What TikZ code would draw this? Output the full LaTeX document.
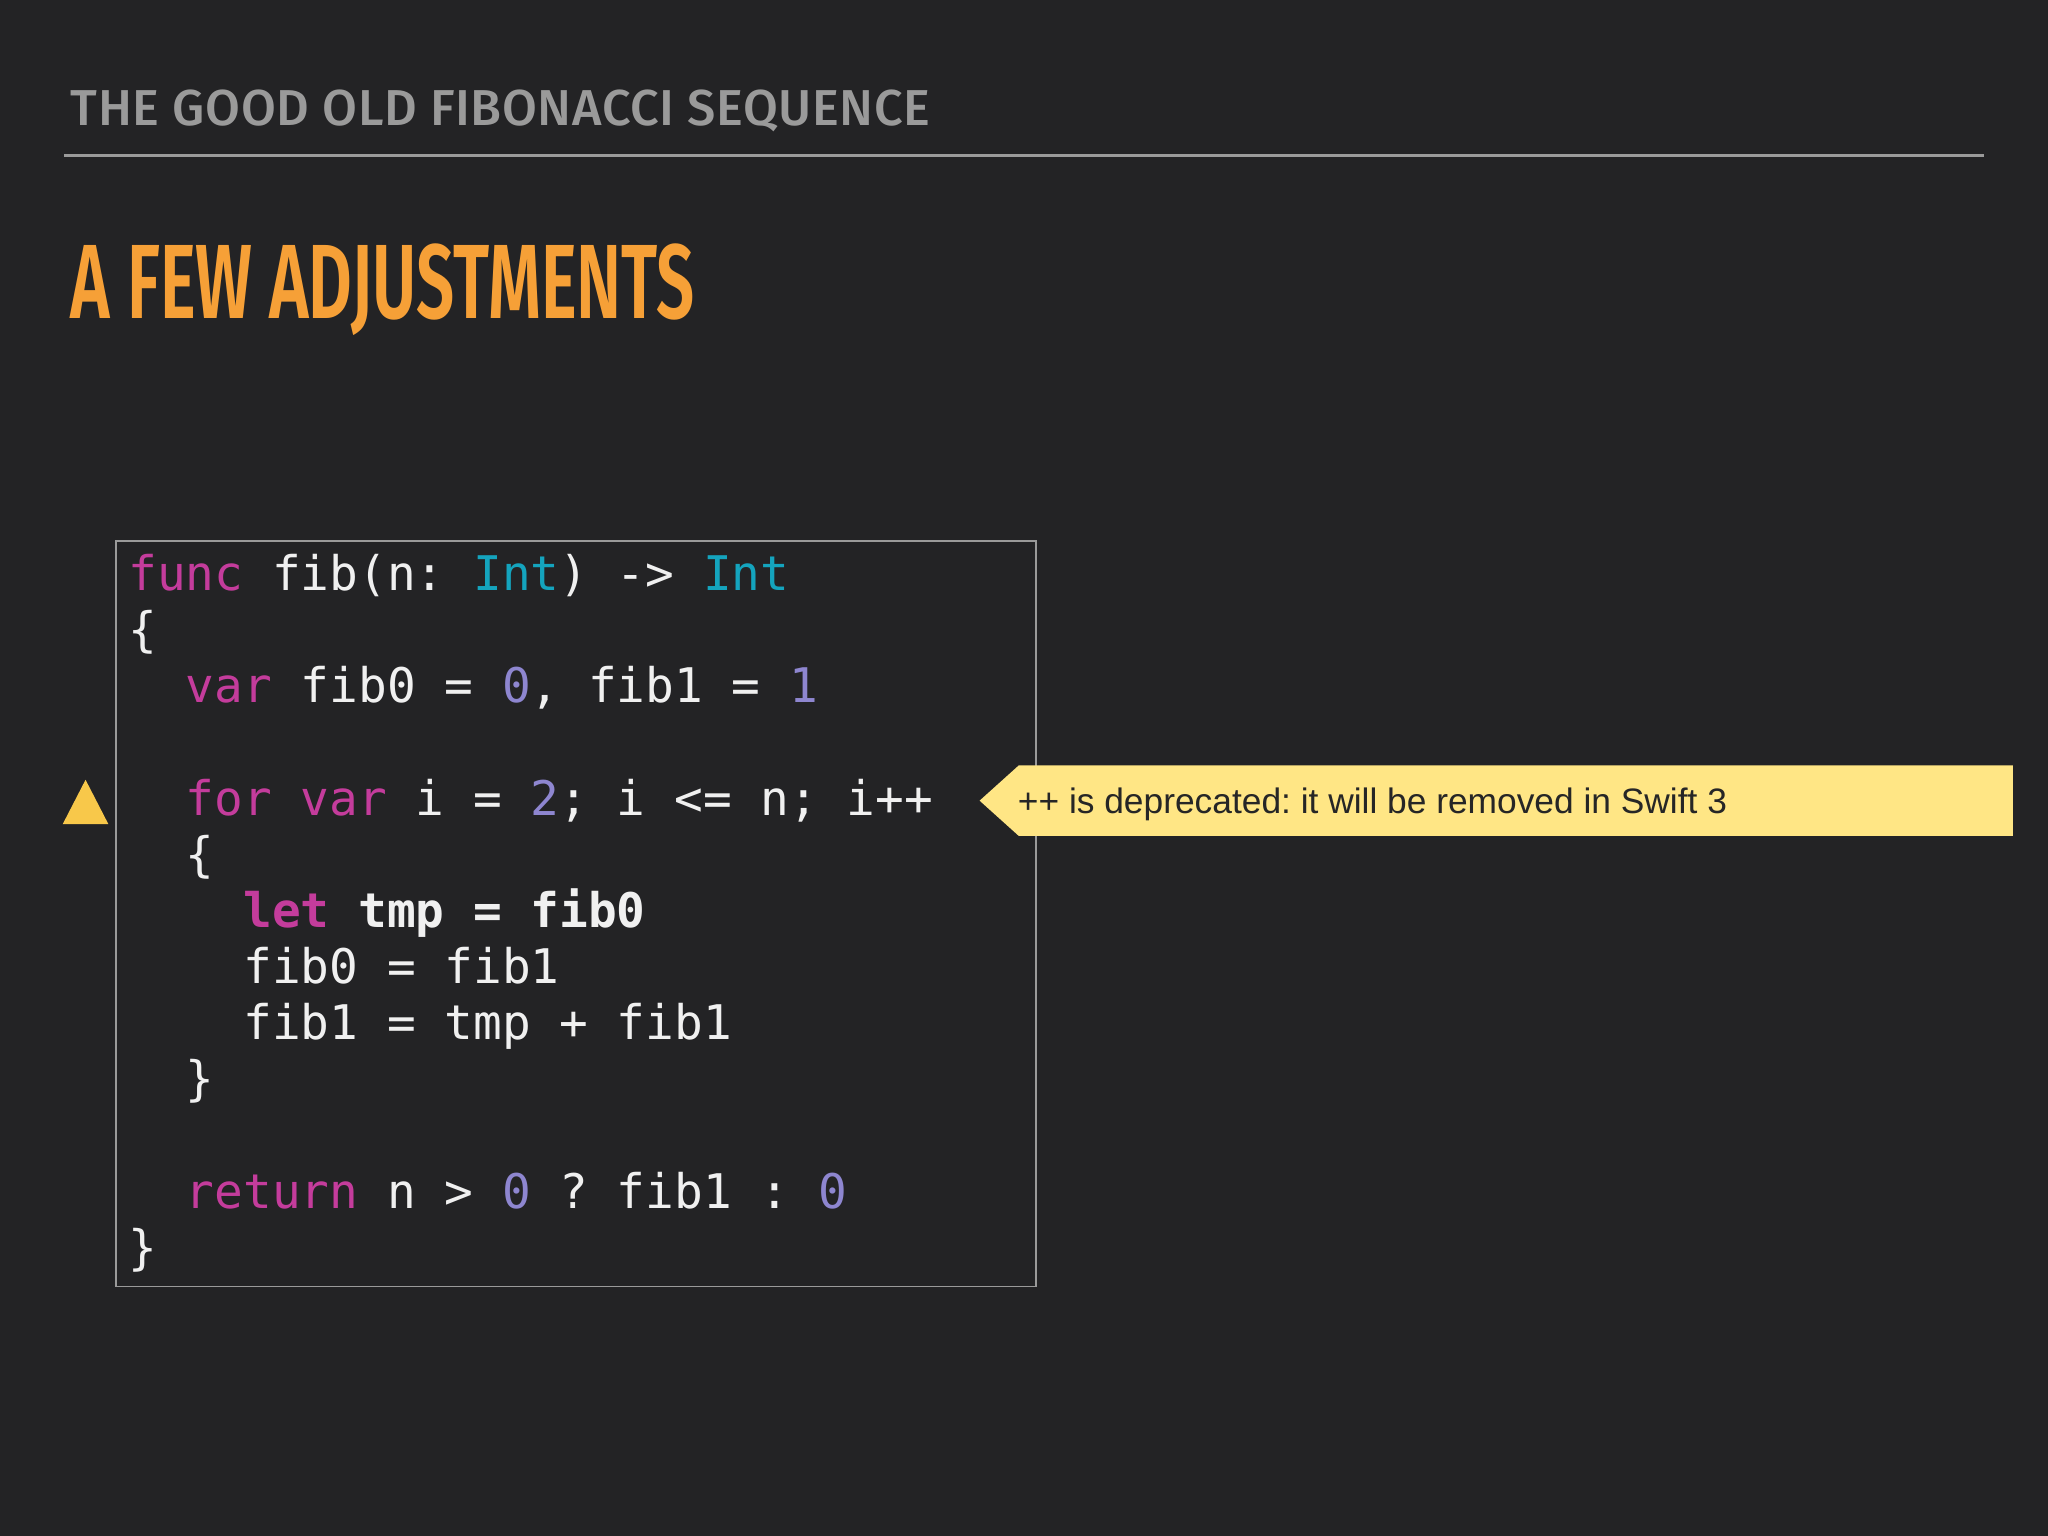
\documentclass[tikz,border=0pt]{standalone}
\usepackage{fontspec}
\setmainfont{Liberation Sans}
\newfontfamily\codef{DejaVu Sans Mono}
\newfontfamily\titlef{Fira Sans Medium}
\newfontfamily\headf[FakeStretch=0.64]{Fira Sans SemiBold}
\definecolor{bg}{HTML}{232325}
\definecolor{kw}{HTML}{C43C9C}
\definecolor{ty}{HTML}{14A4BE}
\definecolor{nm}{HTML}{8E86D0}
\definecolor{tx}{HTML}{F0F0F0}
\definecolor{org}{HTML}{F6A037}
\definecolor{gry}{HTML}{9A9A9A}
\definecolor{yel}{HTML}{FFE685}
\definecolor{warn}{HTML}{F8C84A}
\tikzset{codeline/.style={anchor=base west,inner sep=0pt,text=tx,font=\codef\fontsize{20.8}{24}\selectfont}}
\newcommand{\K}[1]{\textcolor{kw}{#1}}
\newcommand{\T}[1]{\textcolor{ty}{#1}}
\newcommand{\N}[1]{\textcolor{nm}{#1}}
\frenchspacing
\begin{document}
\frenchspacing
\begin{tikzpicture}[x=0.02cm,y=-0.02cm]
\fill[bg] (0,0) rectangle (1568,1176);
\node[anchor=base west,inner sep=0pt,text=gry,font=\titlef\fontsize{22}{26}\selectfont\addfontfeature{LetterSpace=1.2}] (t) at (54,96) {THE GOOD OLD FIBONACCI SEQUENCE};
\draw[gry,line width=1.5pt] (49,119) -- (1519,119);
\node[anchor=base west,inner sep=0pt,text=org,font=\headf\fontsize{46}{50}\selectfont] (h) at (54,244) {A FEW ADJUSTMENTS};
\draw[gry,line width=0.8pt] (89,414) rectangle (793,985);
\foreach \n/\x/\y/\t in {
 l1/98/452/{\K{func} fib(n: \T{Int}) -> \T{Int}},
 l2/98/495/{\{},
 l3/142/538/{\K{var} fib0 = \N{0}, fib1 = \N{1}},
 l5/142/624/{\K{for} \K{var} i = \N{2}; i <= n; i++},
 l6/142/667/{\{},
 l7/186/710/{\textbf{\K{let} tmp = fib0}},
 l8/186/753/{fib0 = fib1},
 l9/186/796/{fib1 = tmp + fib1},
 l10/142/839/{\}},
 l12/142/925/{\K{return} n > \N{0} ? fib1 : \N{0}},
 l13/98/968/{\}}}
 \node[codeline] (\n) at (\x,\y) {\t};
\fill[warn] (48,631) -- (65.5,597) -- (83,631) -- cycle;
\fill[yel] (750,613) -- (780,586) -- (1541,586) -- (1541,640) -- (780,640) -- cycle;
\node[anchor=base west,inner sep=0pt,font=\fontsize{15.4}{18}\selectfont,text=black!85] (msg) at (779,623) {++ is deprecated: it will be removed in Swift 3};
\end{tikzpicture}
\end{document}
